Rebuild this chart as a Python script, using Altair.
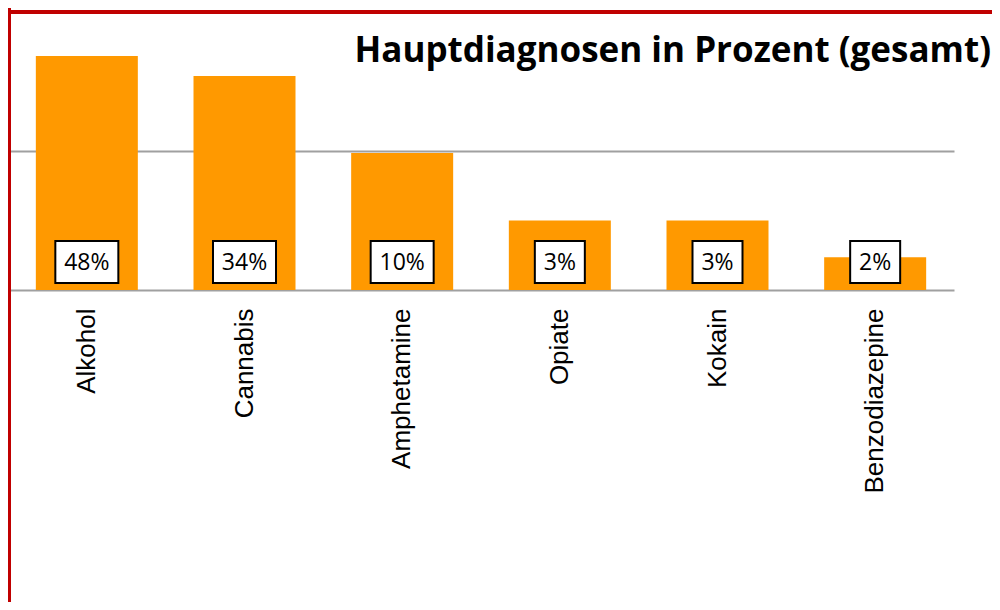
import altair as alt
import pandas as pd

categories = ["Alkohol", "Cannabis", "Amphetamine", "Opiate", "Kokain", "Benzodiazepine"]
values = [47.6, 34.2, 9.6, 3.15, 3.15, 1.72]
labels = ["48%", "34%", "10%", "3%", "3%", "2%"]
title_text = "Hauptdiagnosen in Prozent (gesamt)"

df = pd.DataFrame({"cat": categories, "value": values, "label": labels})

xenc = alt.X(
    "cat:N", sort=categories,
    scale=alt.Scale(paddingInner=0, paddingOuter=0),
    axis=alt.Axis(title=None, labelAngle=270, labelFont="Liberation Sans", labelFontSize=26,
                  labelColor="black", labelPadding=18, ticks=False, domain=False,
                  labelAlign="right", labelBaseline="middle", grid=False, labelLimit=400),
)
base = alt.Chart(df).encode(x=xenc)

bars = base.mark_bar(color="#FF9900", width=102).encode(
    y=alt.Y("value:Q",
            scale=alt.Scale(type="log", domain=[1, 100], nice=False),
            axis=alt.Axis(values=[1, 10, 100], grid=True, labels=False, ticks=False,
                          domain=False, title=None, gridColor="#A0A0A0", gridWidth=2)),
    y2=alt.datum(1),
)

box3 = base.transform_filter("length(datum.label) == 3").mark_bar(
    width=63, color="white", stroke="black", strokeWidth=2
).encode(y=alt.value(230), y2=alt.value(272))

box2 = base.transform_filter("length(datum.label) == 2").mark_bar(
    width=50, color="white", stroke="black", strokeWidth=2
).encode(y=alt.value(230), y2=alt.value(272))

txt = base.mark_text(font="Open Sans", fontSize=23, color="black", baseline="middle").encode(
    text="label:N", y=alt.value(252)
)

title = alt.Chart(pd.DataFrame({"t": [title_text]})).mark_text(
    font="Open Sans", fontWeight="bold", fontSize=35, color="black",
    align="right", baseline="alphabetic"
).encode(text="t:N", x=alt.value(983), y=alt.value(51))

one = pd.DataFrame({"a": [0]})
left_border = alt.Chart(one).mark_rule(color="#C00000", strokeWidth=4).encode(
    x=alt.value(1), y=alt.value(-3), y2=alt.value(600)
)
top_border = alt.Chart(one).mark_rule(color="#C00000", strokeWidth=4).encode(
    x=alt.value(-1), x2=alt.value(1000), y=alt.value(1)
)

chart = alt.layer(bars, box3, box2, txt, title, left_border, top_border).properties(
    width=946, height=279,
    padding={"left": 0, "top": 3, "right": 38, "bottom": 312},
    autosize="none",
).configure_view(stroke=None)

chart.save("out.html", embed_options={"renderer": "svg", "actions": False})
